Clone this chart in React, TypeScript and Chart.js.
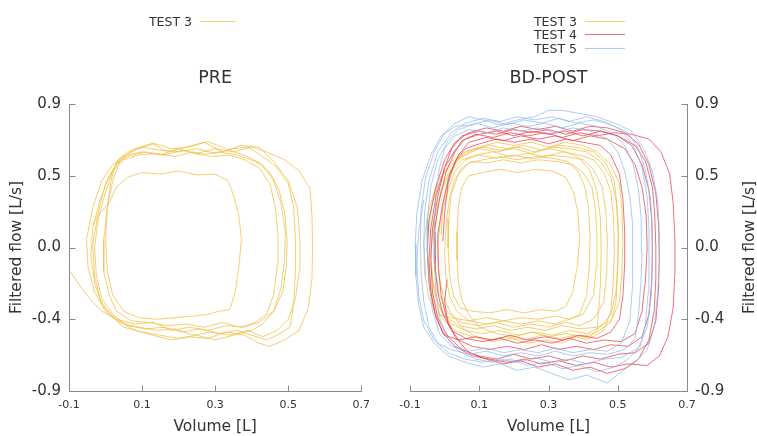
import React, { useEffect, useRef } from "react";
import { Chart, registerables } from "chart.js";

Chart.register(...registerables);

// ---------- axis ticks ----------
const volumeTicks = [-0.1, 0.1, 0.3, 0.5, 0.7];
const volumeTickLabels = ["-0.1", "0.1", "0.3", "0.5", "0.7"];
const flowTicks = [-0.9, -0.45, 0, 0.45, 0.9];
const flowTickLabels = ["-0.9", "-0.4", "0.0", "0.5", "0.9"];

const panelTitles = ["PRE", "BD-POST"];
const seriesLabels = ["TEST 3", "TEST 4", "TEST 5"];
const volumeTitle = "Volume [L]";
const flowTitle = "Filtered flow [L/s]";

// ---------- data: [volume L, filtered flow L/s] ----------
const preTest3: [number, number][] = [
  [-0.097, -0.15], [-0.07, -0.24], [-0.04, -0.33], [-0.01, -0.4],
  [0.03, -0.45], [0.08, -0.48], [0.13, -0.47], [0.18, -0.52], [0.23, -0.5], [0.28, -0.52], [0.33, -0.49], [0.38, -0.5], [0.42, -0.47], [0.46, -0.4],
  [0.485, -0.28], [0.495, -0.12], [0.497, 0.05], [0.49, 0.22], [0.475, 0.36], [0.45, 0.47], [0.41, 0.54],
  [0.36, 0.58], [0.31, 0.6], [0.26, 0.58], [0.21, 0.61], [0.16, 0.58], [0.11, 0.6], [0.06, 0.57], [0.02, 0.52],
  [-0.01, 0.42], [-0.035, 0.25], [-0.052, 0.05], [-0.048, -0.12], [-0.03, -0.28], [0.0, -0.4],
  [0.04, -0.47], [0.09, -0.5], [0.14, -0.52], [0.19, -0.51], [0.24, -0.55], [0.29, -0.53], [0.34, -0.55], [0.39, -0.52], [0.43, -0.56], [0.47, -0.52], [0.5, -0.45],
  [0.52, -0.32], [0.53, -0.15], [0.532, 0.05], [0.525, 0.25], [0.5, 0.42], [0.46, 0.54], [0.42, 0.63],
  [0.37, 0.64], [0.32, 0.6], [0.27, 0.66], [0.22, 0.63], [0.17, 0.6], [0.13, 0.65], [0.08, 0.61], [0.04, 0.56],
  [0.01, 0.45], [-0.015, 0.3], [-0.035, 0.12], [-0.04, -0.05], [-0.03, -0.22], [-0.01, -0.36], [0.03, -0.45],
  [0.08, -0.52], [0.13, -0.55], [0.18, -0.58], [0.23, -0.56], [0.28, -0.57], [0.33, -0.53], [0.38, -0.55], [0.42, -0.6], [0.45, -0.62], [0.49, -0.58], [0.53, -0.52],
  [0.555, -0.38], [0.565, -0.2], [0.567, 0.0], [0.565, 0.2], [0.56, 0.37], [0.53, 0.48], [0.49, 0.55], [0.44, 0.6],
  [0.4, 0.63], [0.35, 0.6], [0.3, 0.62], [0.25, 0.59], [0.2, 0.62], [0.15, 0.58], [0.1, 0.6], [0.06, 0.58], [0.03, 0.52],
  [0.0, 0.4], [-0.02, 0.22], [-0.035, 0.02], [-0.03, -0.18], [-0.015, -0.32], [0.01, -0.42],
  [0.05, -0.5], [0.1, -0.53], [0.15, -0.55], [0.2, -0.57], [0.25, -0.55], [0.3, -0.58], [0.35, -0.55], [0.4, -0.52], [0.43, -0.48], [0.46, -0.4],
  [0.48, -0.26], [0.49, -0.08], [0.492, 0.1], [0.48, 0.28], [0.46, 0.42], [0.43, 0.52], [0.39, 0.57],
  [0.34, 0.61], [0.28, 0.665], [0.23, 0.63], [0.18, 0.62], [0.13, 0.655], [0.08, 0.62], [0.04, 0.55],
  [0.02, 0.42], [0.005, 0.25], [-0.005, 0.05], [-0.005, -0.15], [0.01, -0.3], [0.03, -0.4],
  [0.07, -0.46], [0.12, -0.47], [0.17, -0.49], [0.22, -0.48], [0.27, -0.5], [0.32, -0.47], [0.37, -0.5], [0.41, -0.47], [0.44, -0.42],
  [0.46, -0.3], [0.47, -0.12], [0.472, 0.08], [0.465, 0.25], [0.45, 0.4], [0.42, 0.5], [0.38, 0.55],
  [0.34, 0.58], [0.29, 0.57], [0.24, 0.6], [0.19, 0.57], [0.14, 0.59], [0.09, 0.58], [0.05, 0.55], [0.02, 0.48],
  [0.0, 0.35], [-0.02, 0.18], [-0.03, 0.0], [-0.025, -0.18], [-0.01, -0.32], [0.02, -0.42],
  [0.06, -0.49], [0.11, -0.51], [0.16, -0.5], [0.21, -0.53], [0.26, -0.51], [0.31, -0.54], [0.36, -0.52], [0.4, -0.55], [0.44, -0.58], [0.47, -0.55], [0.505, -0.5],
  [0.515, -0.35], [0.52, -0.15], [0.52, 0.05], [0.515, 0.25], [0.5, 0.4], [0.47, 0.5], [0.43, 0.57],
  [0.39, 0.63], [0.35, 0.62], [0.3, 0.59], [0.25, 0.62], [0.2, 0.6], [0.15, 0.61], [0.1, 0.63], [0.06, 0.6], [0.03, 0.54],
  [0.015, 0.42], [0.005, 0.25], [0.0, 0.05], [0.005, -0.15], [0.02, -0.3], [0.05, -0.4],
  [0.09, -0.44], [0.14, -0.45], [0.19, -0.44], [0.24, -0.43], [0.28, -0.42], [0.31, -0.4], [0.34, -0.39],
  [0.355, -0.28], [0.365, -0.12], [0.372, 0.05], [0.365, 0.2], [0.35, 0.33], [0.335, 0.42],
  [0.3, 0.46], [0.25, 0.455], [0.2, 0.48], [0.15, 0.46], [0.1, 0.47], [0.06, 0.44], [0.03, 0.38],
  [0.01, 0.28], [-0.02, 0.2], [-0.038, 0.14],
];

const postTest3: [number, number][] = [
  [-0.04, -0.1], [-0.03, -0.28], [-0.01, -0.4], [0.02, -0.48],
  [0.06, -0.52], [0.11, -0.54], [0.16, -0.52], [0.21, -0.55], [0.26, -0.53], [0.31, -0.55], [0.36, -0.52], [0.41, -0.54], [0.45, -0.5], [0.48, -0.42],
  [0.495, -0.28], [0.5, -0.1], [0.502, 0.1], [0.495, 0.3], [0.48, 0.44], [0.45, 0.54], [0.41, 0.6],
  [0.36, 0.62], [0.31, 0.63], [0.26, 0.6], [0.21, 0.63], [0.16, 0.61], [0.11, 0.63], [0.06, 0.6], [0.02, 0.54],
  [-0.01, 0.44], [-0.035, 0.28], [-0.05, 0.08], [-0.048, -0.12], [-0.035, -0.3], [-0.01, -0.44],
  [0.03, -0.52], [0.08, -0.56], [0.13, -0.58], [0.18, -0.56], [0.23, -0.58], [0.28, -0.55], [0.33, -0.57], [0.38, -0.55], [0.42, -0.57], [0.46, -0.52],
  [0.48, -0.4], [0.487, -0.22], [0.49, -0.02], [0.488, 0.18], [0.48, 0.35], [0.46, 0.47], [0.43, 0.55],
  [0.39, 0.58], [0.34, 0.6], [0.29, 0.57], [0.24, 0.59], [0.19, 0.57], [0.14, 0.6], [0.09, 0.58], [0.05, 0.55], [0.02, 0.48],
  [-0.01, 0.36], [-0.03, 0.18], [-0.04, -0.02], [-0.035, -0.2], [-0.02, -0.34], [0.0, -0.43],
  [0.04, -0.49], [0.09, -0.51], [0.14, -0.49], [0.19, -0.52], [0.24, -0.5], [0.29, -0.52], [0.34, -0.49], [0.39, -0.51], [0.44, -0.5], [0.48, -0.46],
  [0.505, -0.34], [0.512, -0.16], [0.515, 0.04], [0.512, 0.24], [0.505, 0.4], [0.48, 0.52], [0.44, 0.6],
  [0.4, 0.64], [0.35, 0.66], [0.3, 0.63], [0.25, 0.66], [0.2, 0.64], [0.15, 0.66], [0.1, 0.63], [0.06, 0.6], [0.03, 0.53],
  [0.0, 0.42], [-0.02, 0.26], [-0.03, 0.06], [-0.028, -0.14], [-0.015, -0.3], [0.01, -0.41],
  [0.05, -0.47], [0.1, -0.49], [0.15, -0.47], [0.2, -0.5], [0.25, -0.48], [0.3, -0.5], [0.35, -0.47], [0.39, -0.49], [0.43, -0.45],
  [0.46, -0.34], [0.468, -0.16], [0.47, 0.04], [0.466, 0.22], [0.455, 0.38], [0.43, 0.49], [0.4, 0.55],
  [0.35, 0.57], [0.3, 0.58], [0.25, 0.555], [0.2, 0.58], [0.15, 0.56], [0.1, 0.58], [0.06, 0.55], [0.03, 0.48],
  [0.01, 0.36], [-0.01, 0.2], [-0.02, 0.02], [-0.018, -0.16], [-0.005, -0.3], [0.015, -0.4],
  [0.05, -0.5], [0.09, -0.56], [0.14, -0.59], [0.19, -0.57], [0.24, -0.6], [0.29, -0.58], [0.34, -0.6], [0.38, -0.56], [0.41, -0.58], [0.44, -0.52],
  [0.445, -0.4], [0.45, -0.22], [0.452, -0.02], [0.45, 0.18], [0.44, 0.35], [0.42, 0.48], [0.39, 0.56],
  [0.35, 0.6], [0.3, 0.62], [0.25, 0.59], [0.2, 0.62], [0.15, 0.6], [0.1, 0.62], [0.06, 0.58], [0.02, 0.52],
  [-0.02, 0.42], [-0.045, 0.24], [-0.06, 0.04], [-0.058, -0.16], [-0.045, -0.32], [-0.02, -0.42],
  [0.02, -0.44], [0.07, -0.46], [0.12, -0.44], [0.17, -0.46], [0.22, -0.44], [0.27, -0.45], [0.32, -0.43], [0.36, -0.45], [0.4, -0.42],
  [0.43, -0.3], [0.438, -0.12], [0.44, 0.06], [0.436, 0.24], [0.425, 0.38], [0.4, 0.47], [0.37, 0.52],
  [0.32, 0.54], [0.27, 0.55], [0.22, 0.53], [0.17, 0.55], [0.12, 0.53], [0.08, 0.54], [0.05, 0.5], [0.03, 0.43],
  [0.015, 0.32], [0.005, 0.16], [0.0, -0.02], [0.003, -0.18], [0.015, -0.31], [0.035, -0.4],
  [0.07, -0.46], [0.12, -0.48], [0.17, -0.46], [0.22, -0.48], [0.27, -0.46], [0.32, -0.48], [0.36, -0.45], [0.39, -0.42],
  [0.41, -0.3], [0.418, -0.12], [0.42, 0.06], [0.416, 0.24], [0.405, 0.38], [0.385, 0.48], [0.355, 0.54],
  [0.31, 0.56], [0.26, 0.57], [0.21, 0.55], [0.16, 0.57], [0.11, 0.55], [0.07, 0.53], [0.04, 0.46],
  [0.02, 0.34], [0.012, 0.18], [0.01, 0.0], [0.014, -0.17], [0.025, -0.3], [0.045, -0.38],
  [0.08, -0.4], [0.13, -0.41], [0.18, -0.39], [0.23, -0.41], [0.28, -0.39], [0.32, -0.4], [0.35, -0.37],
  [0.37, -0.28], [0.383, -0.12], [0.39, 0.05], [0.385, 0.22], [0.372, 0.35], [0.35, 0.44],
  [0.31, 0.48], [0.26, 0.49], [0.21, 0.47], [0.16, 0.49], [0.11, 0.47], [0.07, 0.45], [0.05, 0.38],
  [0.04, 0.26], [0.036, 0.1], [0.036, -0.08], [0.04, -0.22], [0.05, -0.33], [0.07, -0.42],
  [0.1, -0.5], [0.15, -0.54], [0.2, -0.56], [0.25, -0.53], [0.3, -0.56], [0.35, -0.54], [0.4, -0.56], [0.44, -0.53], [0.48, -0.47],
  [0.495, -0.34], [0.5, -0.14], [0.502, 0.06], [0.498, 0.26], [0.49, 0.42], [0.465, 0.53], [0.43, 0.6],
  [0.38, 0.63], [0.33, 0.64], [0.28, 0.61], [0.23, 0.64], [0.18, 0.62], [0.13, 0.64], [0.08, 0.61], [0.04, 0.56],
  [0.01, 0.44], [-0.005, 0.26], [-0.01, 0.08],
];

const postTest4: [number, number][] = [
  [0.007, -0.2], [0.0, -0.34], [0.01, -0.48], [0.04, -0.58],
  [0.08, -0.62], [0.13, -0.64], [0.18, -0.62], [0.23, -0.64], [0.28, -0.61], [0.33, -0.64], [0.38, -0.62], [0.43, -0.64], [0.48, -0.61], [0.53, -0.62], [0.57, -0.56],
  [0.59, -0.42], [0.598, -0.22], [0.6, -0.02], [0.598, 0.18], [0.59, 0.36], [0.57, 0.52], [0.54, 0.64], [0.5, 0.7],
  [0.45, 0.73], [0.4, 0.74], [0.35, 0.71], [0.3, 0.74], [0.25, 0.72], [0.2, 0.74], [0.15, 0.71], [0.1, 0.73], [0.05, 0.7], [0.02, 0.62],
  [0.0, 0.5], [-0.02, 0.32], [-0.035, 0.12], [-0.04, -0.08], [-0.035, -0.28], [-0.02, -0.44], [0.01, -0.56],
  [0.05, -0.64], [0.1, -0.68], [0.15, -0.7], [0.2, -0.67], [0.25, -0.7], [0.3, -0.68], [0.35, -0.71], [0.4, -0.68], [0.45, -0.7], [0.5, -0.67], [0.55, -0.66], [0.59, -0.6],
  [0.61, -0.46], [0.618, -0.26], [0.62, -0.06], [0.618, 0.14], [0.61, 0.34], [0.59, 0.52], [0.56, 0.65], [0.52, 0.72],
  [0.47, 0.75], [0.42, 0.76], [0.37, 0.73], [0.32, 0.76], [0.27, 0.74], [0.22, 0.76], [0.17, 0.73], [0.12, 0.75], [0.07, 0.72], [0.03, 0.66],
  [0.0, 0.55], [-0.025, 0.38], [-0.045, 0.18], [-0.05, -0.02], [-0.045, -0.22], [-0.03, -0.4], [-0.005, -0.54],
  [0.03, -0.62], [0.08, -0.68], [0.13, -0.7], [0.18, -0.72], [0.23, -0.7], [0.28, -0.73], [0.33, -0.71], [0.38, -0.74], [0.43, -0.72], [0.48, -0.75], [0.53, -0.73], [0.585, -0.74], [0.62, -0.68],
  [0.645, -0.56], [0.66, -0.38], [0.665, -0.16], [0.665, 0.06], [0.66, 0.28], [0.65, 0.46], [0.625, 0.6], [0.59, 0.68],
  [0.54, 0.71], [0.49, 0.72], [0.44, 0.7], [0.39, 0.72], [0.34, 0.69], [0.29, 0.72], [0.24, 0.7], [0.19, 0.72], [0.14, 0.69], [0.09, 0.71], [0.05, 0.67], [0.03, 0.6],
  [0.005, 0.48], [-0.015, 0.3], [-0.03, 0.1], [-0.028, -0.1], [-0.02, -0.28], [-0.005, -0.42], [0.02, -0.52],
  [0.06, -0.57], [0.11, -0.59], [0.16, -0.57], [0.21, -0.6], [0.26, -0.58], [0.31, -0.6], [0.36, -0.57], [0.41, -0.6], [0.46, -0.58], [0.51, -0.59], [0.55, -0.54],
  [0.57, -0.4], [0.58, -0.2], [0.585, 0.0], [0.582, 0.2], [0.57, 0.38], [0.55, 0.52], [0.52, 0.62],
  [0.47, 0.68], [0.42, 0.7], [0.37, 0.67], [0.32, 0.7], [0.27, 0.68], [0.22, 0.7], [0.17, 0.67], [0.12, 0.69], [0.07, 0.66], [0.04, 0.58],
  [0.015, 0.46], [-0.005, 0.28], [-0.02, 0.08], [-0.018, -0.12], [-0.01, -0.3], [0.005, -0.44], [0.03, -0.56],
  [0.07, -0.66], [0.12, -0.7], [0.17, -0.73], [0.22, -0.71], [0.27, -0.75], [0.32, -0.73], [0.37, -0.77], [0.42, -0.75], [0.47, -0.79], [0.52, -0.76], [0.56, -0.7],
  [0.59, -0.58], [0.605, -0.4], [0.61, -0.2], [0.61, 0.0], [0.607, 0.2], [0.6, 0.38], [0.58, 0.54], [0.55, 0.64],
  [0.5, 0.7], [0.45, 0.73], [0.4, 0.7], [0.35, 0.73], [0.3, 0.71], [0.25, 0.73], [0.2, 0.7], [0.15, 0.73], [0.1, 0.71], [0.06, 0.68], [0.03, 0.61],
  [0.0, 0.5], [-0.025, 0.32], [-0.04, 0.12], [-0.045, -0.08], [-0.04, -0.28], [-0.025, -0.44], [0.0, -0.55],
  [0.04, -0.58], [0.09, -0.56], [0.14, -0.58], [0.19, -0.55], [0.24, -0.58], [0.29, -0.56], [0.34, -0.58], [0.39, -0.55], [0.44, -0.57], [0.48, -0.53], [0.505, -0.45],
  [0.515, -0.3], [0.52, -0.1], [0.52, 0.1], [0.515, 0.3], [0.505, 0.46], [0.48, 0.58], [0.45, 0.64],
  [0.4, 0.66], [0.35, 0.68], [0.3, 0.65], [0.25, 0.68], [0.2, 0.66], [0.15, 0.68], [0.1, 0.65], [0.06, 0.62], [0.03, 0.54],
  [0.01, 0.4], [0.0, 0.22], [-0.005, 0.04],
];

const postTest5: [number, number][] = [
  [-0.06, 0.3], [-0.075, 0.1], [-0.08, -0.1], [-0.075, -0.3], [-0.06, -0.46], [-0.03, -0.58],
  [0.01, -0.66], [0.06, -0.7], [0.11, -0.72], [0.16, -0.7], [0.21, -0.72], [0.26, -0.69], [0.31, -0.72], [0.36, -0.7], [0.41, -0.73], [0.46, -0.7], [0.51, -0.69], [0.56, -0.63],
  [0.585, -0.5], [0.597, -0.3], [0.6, -0.1], [0.6, 0.1], [0.595, 0.3], [0.58, 0.48], [0.56, 0.62], [0.53, 0.72],
  [0.48, 0.77], [0.43, 0.8], [0.38, 0.78], [0.33, 0.81], [0.28, 0.78], [0.23, 0.8], [0.18, 0.77], [0.13, 0.8], [0.08, 0.77], [0.03, 0.76], [-0.01, 0.7],
  [-0.04, 0.58], [-0.065, 0.42], [-0.08, 0.22], [-0.085, 0.02], [-0.083, -0.18], [-0.075, -0.36], [-0.06, -0.5], [-0.03, -0.6],
  [0.01, -0.68], [0.06, -0.72], [0.11, -0.75], [0.16, -0.73], [0.21, -0.77], [0.26, -0.75], [0.31, -0.79], [0.36, -0.83], [0.41, -0.8], [0.47, -0.85], [0.51, -0.78], [0.55, -0.72], [0.585, -0.64],
  [0.605, -0.5], [0.615, -0.3], [0.62, -0.1], [0.62, 0.1], [0.615, 0.3], [0.6, 0.48], [0.575, 0.62], [0.54, 0.73],
  [0.49, 0.78], [0.44, 0.82], [0.39, 0.84], [0.34, 0.86], [0.3, 0.86], [0.26, 0.82], [0.21, 0.8], [0.16, 0.77], [0.11, 0.8], [0.07, 0.82], [0.03, 0.78], [0.0, 0.72],
  [-0.03, 0.6], [-0.055, 0.44], [-0.068, 0.24], [-0.07, 0.04], [-0.068, -0.16], [-0.06, -0.34], [-0.045, -0.5], [-0.02, -0.6],
  [0.02, -0.64], [0.07, -0.67], [0.12, -0.65], [0.17, -0.68], [0.22, -0.66], [0.27, -0.68], [0.32, -0.65], [0.37, -0.68], [0.42, -0.66], [0.47, -0.67], [0.52, -0.64], [0.55, -0.57],
  [0.56, -0.42], [0.567, -0.22], [0.57, -0.02], [0.568, 0.18], [0.56, 0.36], [0.545, 0.52], [0.52, 0.64], [0.49, 0.71],
  [0.44, 0.76], [0.39, 0.78], [0.34, 0.75], [0.29, 0.78], [0.24, 0.76], [0.19, 0.78], [0.14, 0.75], [0.09, 0.78], [0.04, 0.74], [0.01, 0.67],
  [-0.02, 0.55], [-0.04, 0.38], [-0.05, 0.18], [-0.05, -0.02], [-0.045, -0.22], [-0.035, -0.4], [-0.015, -0.54],
  [0.02, -0.62], [0.07, -0.65], [0.12, -0.63], [0.17, -0.66], [0.22, -0.64], [0.27, -0.66], [0.32, -0.63], [0.37, -0.66], [0.42, -0.64], [0.47, -0.65], [0.51, -0.6],
  [0.535, -0.46], [0.542, -0.26], [0.544, -0.06], [0.542, 0.14], [0.535, 0.32], [0.52, 0.48], [0.5, 0.6], [0.47, 0.68],
  [0.42, 0.73], [0.37, 0.75], [0.32, 0.72], [0.27, 0.75], [0.22, 0.73], [0.17, 0.75], [0.12, 0.72], [0.07, 0.74], [0.03, 0.7], [0.0, 0.62],
  [-0.015, 0.5], [-0.025, 0.32], [-0.03, 0.12], [-0.03, -0.08], [-0.025, -0.28], [-0.015, -0.44], [0.005, -0.56],
  [0.04, -0.65], [0.09, -0.7], [0.14, -0.72], [0.19, -0.7], [0.24, -0.74], [0.29, -0.72], [0.34, -0.76], [0.39, -0.74], [0.44, -0.78], [0.49, -0.75], [0.53, -0.7], [0.565, -0.62],
  [0.58, -0.48], [0.588, -0.28], [0.59, -0.08], [0.59, 0.12], [0.585, 0.32], [0.57, 0.5], [0.545, 0.64], [0.51, 0.74],
  [0.46, 0.79], [0.41, 0.82], [0.36, 0.79], [0.31, 0.82], [0.26, 0.8], [0.21, 0.82], [0.16, 0.79], [0.11, 0.81], [0.06, 0.78], [0.02, 0.72],
  [-0.02, 0.6], [-0.045, 0.42], [-0.058, 0.22], [-0.06, 0.02], [-0.055, -0.18],
];

// ---------- styling ----------
const FONT = "'DejaVu Sans', sans-serif";
const TEXT = "#333333";
const AXIS = "#8a8a8a";
const seriesColors = ["rgba(240, 194, 76, 0.78)", "rgba(228, 58, 72, 0.72)", "rgba(140, 182, 236, 0.7)"];

const toPoints = (arr: [number, number][]) => arr.map(([x, y]) => ({ x, y }));

const decorPlugin = {
  id: "panelDecor",
  afterDraw(chart: any, _args: any, opts: any) {
    const ctx: CanvasRenderingContext2D = chart.ctx;
    const area = chart.chartArea;
    const xs = chart.scales.x;
    const ys = chart.scales.y;
    ctx.save();

    // inward tick marks
    ctx.strokeStyle = AXIS;
    ctx.lineWidth = 1;
    ctx.beginPath();
    const xAxisY = Math.round(area.bottom) + 0.5;
    xs.ticks.forEach((t: any) => {
      const px = Math.round(xs.getPixelForValue(t.value)) + 0.5;
      ctx.moveTo(px, xAxisY);
      ctx.lineTo(px, xAxisY - 6);
    });
    const yAxisX = opts.yRight ? Math.round(area.right) + 0.5 : Math.round(area.left) + 0.5;
    const dir = opts.yRight ? -1 : 1;
    ys.ticks.forEach((t: any) => {
      const py = Math.round(ys.getPixelForValue(t.value)) + 0.5;
      ctx.moveTo(yAxisX, py);
      ctx.lineTo(yAxisX + dir * 6, py);
    });
    ctx.stroke();

    // panel title
    ctx.fillStyle = TEXT;
    ctx.font = `17.5px ${FONT}`;
    ctx.textAlign = "center";
    ctx.textBaseline = "alphabetic";
    ctx.fillText(opts.title, (area.left + area.right) / 2, opts.titleBaseline);

    // legend (text, then line sample)
    ctx.font = `12.5px ${FONT}`;
    ctx.textAlign = "right";
    chart.data.datasets.forEach((ds: any, i: number) => {
      const cy = opts.legendTop + i * opts.legendRow;
      ctx.fillStyle = TEXT;
      ctx.fillText(ds.label, opts.legendTextRight, cy + 5);
      ctx.strokeStyle = ds.borderColor;
      ctx.beginPath();
      ctx.moveTo(opts.legendTextRight + 8, Math.round(cy) + 0.5);
      ctx.lineTo(opts.legendTextRight + 8 + opts.legendLine, Math.round(cy) + 0.5);
      ctx.stroke();
    });

    // right-hand y title (reads bottom to top)
    if (opts.rightTitleX) {
      ctx.translate(opts.rightTitleX, (area.top + area.bottom) / 2);
      ctx.rotate(-Math.PI / 2);
      ctx.fillStyle = TEXT;
      ctx.font = `15.5px ${FONT}`;
      ctx.textAlign = "center";
      ctx.textBaseline = "middle";
      ctx.fillText(flowTitle, 0, 0);
    }
    ctx.restore();
  },
};

function makeConfig(datasets: any[], side: "left" | "right", decor: any): any {
  const isRight = side === "right";
  return {
    type: "scatter",
    data: { datasets },
    plugins: [decorPlugin],
    options: {
      responsive: false,
      animation: false,
      events: [],
      layout: { padding: isRight ? { left: 32, right: 0, top: 104, bottom: 0 } : { left: 0, right: 16, top: 104, bottom: 0 } },
      plugins: {
        legend: { display: false },
        title: { display: false },
        tooltip: { enabled: false },
        panelDecor: decor,
      },
      elements: { point: { radius: 0 }, line: { tension: 0 } },
      scales: {
        x: {
          type: "linear",
          min: -0.1,
          max: 0.7,
          afterBuildTicks: (s: any) => {
            s.ticks = volumeTicks.map((v) => ({ value: v }));
          },
          afterFit: (s: any) => {
            s.height = 45;
          },
          ticks: {
            autoSkip: false,
            maxRotation: 0,
            padding: 8,
            color: TEXT,
            font: { family: FONT, size: 11 },
            callback: (_v: any, i: number) => volumeTickLabels[i],
          },
          grid: { display: false, drawTicks: false },
          border: { display: true, color: AXIS, width: 1 },
          title: {
            display: true,
            text: volumeTitle,
            color: TEXT,
            font: { family: FONT, size: 15.5 },
            padding: { top: 0, bottom: 0 },
          },
        },
        y: {
          type: "linear",
          position: isRight ? "right" : "left",
          min: -0.9,
          max: 0.9,
          afterBuildTicks: (s: any) => {
            s.ticks = flowTicks.map((v) => ({ value: v }));
          },
          afterFit: (s: any) => {
            s.width = isRight ? 70 : 69;
          },
          ticks: {
            autoSkip: false,
            padding: 8,
            color: TEXT,
            font: { family: FONT, size: 15 },
            callback: (_v: any, i: number) => flowTickLabels[i],
          },
          grid: { display: false, drawTicks: false },
          border: { display: true, color: AXIS, width: 1 },
          title: {
            display: !isRight,
            text: flowTitle,
            color: TEXT,
            font: { family: FONT, size: 15.5, lineHeight: 1.2 },
            padding: { top: 8, bottom: 0 },
          },
        },
      },
    },
  };
}

function line(label: string, color: string, pts: [number, number][], order: number) {
  return {
    label,
    data: toPoints(pts),
    showLine: true,
    borderColor: color,
    backgroundColor: color,
    borderWidth: 1,
    pointRadius: 0,
    fill: false,
    order,
  };
}

export default function App() {
  const leftRef = useRef<HTMLCanvasElement | null>(null);
  const rightRef = useRef<HTMLCanvasElement | null>(null);

  useEffect(() => {
    if (!leftRef.current || !rightRef.current) return;
    const left = new Chart(
      leftRef.current,
      makeConfig([line(seriesLabels[0], seriesColors[0], preTest3, 3)], "left", {
        title: panelTitles[0],
        titleBaseline: 83,
        legendTextRight: 192,
        legendTop: 21,
        legendRow: 13.4,
        legendLine: 36,
        yRight: false,
      })
    );
    const right = new Chart(
      rightRef.current,
      makeConfig(
        [
          line(seriesLabels[0], seriesColors[0], postTest3, 3),
          line(seriesLabels[1], seriesColors[1], postTest4, 2),
          line(seriesLabels[2], seriesColors[2], postTest5, 1),
        ],
        "right",
        {
          title: panelTitles[1],
          titleBaseline: 83,
          legendTextRight: 199,
          legendTop: 21,
          legendRow: 13.4,
          legendLine: 40,
          yRight: true,
          rightTitleX: 372,
        }
      )
    );
    return () => {
      left.destroy();
      right.destroy();
    };
  }, []);

  return (
    <div style={{ position: "fixed", left: 0, top: 0, width: 757, height: 436, background: "#ffffff", overflow: "hidden" }}>
      <canvas ref={leftRef} width={378} height={436} style={{ position: "absolute", left: 0, top: 0, width: 378, height: 436 }} />
      <canvas ref={rightRef} width={379} height={436} style={{ position: "absolute", left: 378, top: 0, width: 379, height: 436 }} />
    </div>
  );
}
